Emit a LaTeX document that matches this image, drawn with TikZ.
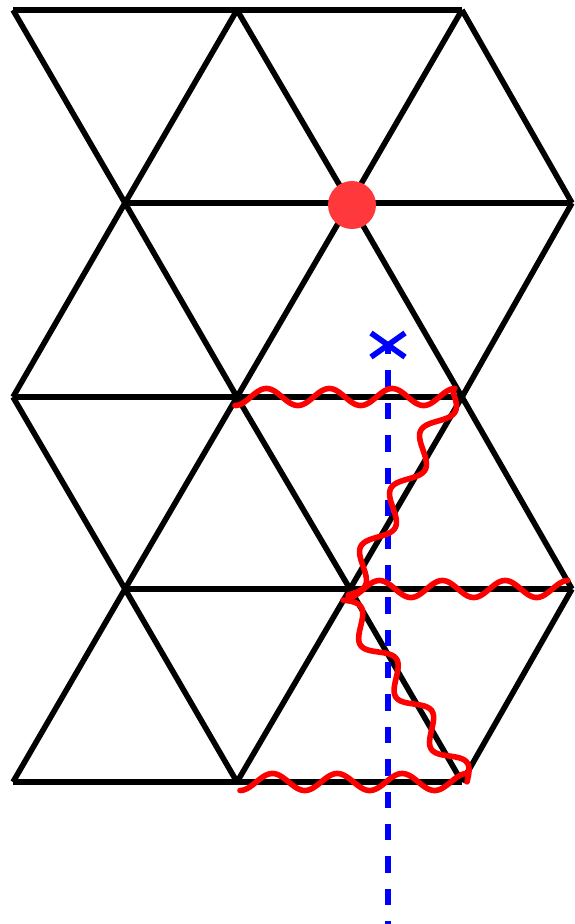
\documentclass[tikz,border=0pt]{standalone}
\definecolor{dotred}{RGB}{255,56,60}
\definecolor{wavered}{RGB}{255,0,0}
\definecolor{xblue}{RGB}{0,0,255}
% #1,#2 start; #3,#4 end; #5 periods; #6 phase; #7 amplitude
\newcommand{\wavyline}[7]{%
  \pgfmathsetmacro{\wdx}{#3-#1}%
  \pgfmathsetmacro{\wdy}{#4-#2}%
  \pgfmathsetmacro{\wL}{veclen(\wdx,\wdy)}%
  \draw[wave] plot[domain=0:1,samples=160,smooth,variable=\t]
    ({#1+\t*\wdx-#7*sin(360*#5*\t+#6)*\wdy/\wL},
     {#2+\t*\wdy+#7*sin(360*#5*\t+#6)*\wdx/\wL});
}
\begin{document}
\begin{tikzpicture}[x=1pt,y=-1pt,
  lat/.style={black,line width=5.6pt,line join=miter},
  wave/.style={wavered,line width=5.6pt,line cap=round,line join=round},
  cutline/.style={xblue,line width=5.6pt,dash pattern=on 16.4pt off 16pt,dash phase=7pt},
  cross/.style={xblue,line width=5.6pt}]
\useasboundingbox (0,0) rectangle (574,924);
% lattice vertices
\foreach \r/\y in {0/10,1/203,2/397,3/589,4/782}
  \foreach \c/\x in {0/13,1/125,2/237,3/350,4/462,5/572}
    \coordinate (v\r\c) at (\x,\y);
% horizontal edges
\draw[lat] (v00)--(v04);
\draw[lat] (v11)--(v15);
\draw[lat] (v20)--(v24);
\draw[lat] (v31)--(v35);
\draw[lat] (v40)--(v44);
% diagonal edges between an even row e and an odd row o
\foreach \e/\o in {0/1,2/1,2/3,4/3}{
  \draw[lat] (v\e0)--(v\o1);
  \draw[lat] (v\e2)--(v\o1);
  \draw[lat] (v\e2)--(v\o3);
  \draw[lat] (v\e4)--(v\o3);
  \draw[lat] (v\e4)--(v\o5);
}
% blue cut line with cross
\coordinate (xc) at (388,345);
\coordinate (xb) at (388,924);
\draw[cutline] (xc)--(xb);
\draw[cross] (371,333)--(405,357) (371,357)--(405,333);
% red wavy lines
\wavyline{235}{397}{455}{397}{3.5}{90}{8.5}
\wavyline{453}{392}{348}{595}{3.5}{180}{11}
\wavyline{348}{589}{568}{589}{3.5}{90}{8.5}
\wavyline{343}{600}{467}{782}{3.5}{180}{11}
\wavyline{240}{782}{467}{782}{3.5}{90}{8.5}
% red dot
\fill[dotred] (352,205) circle[radius=24pt];
\end{tikzpicture}
\end{document}
